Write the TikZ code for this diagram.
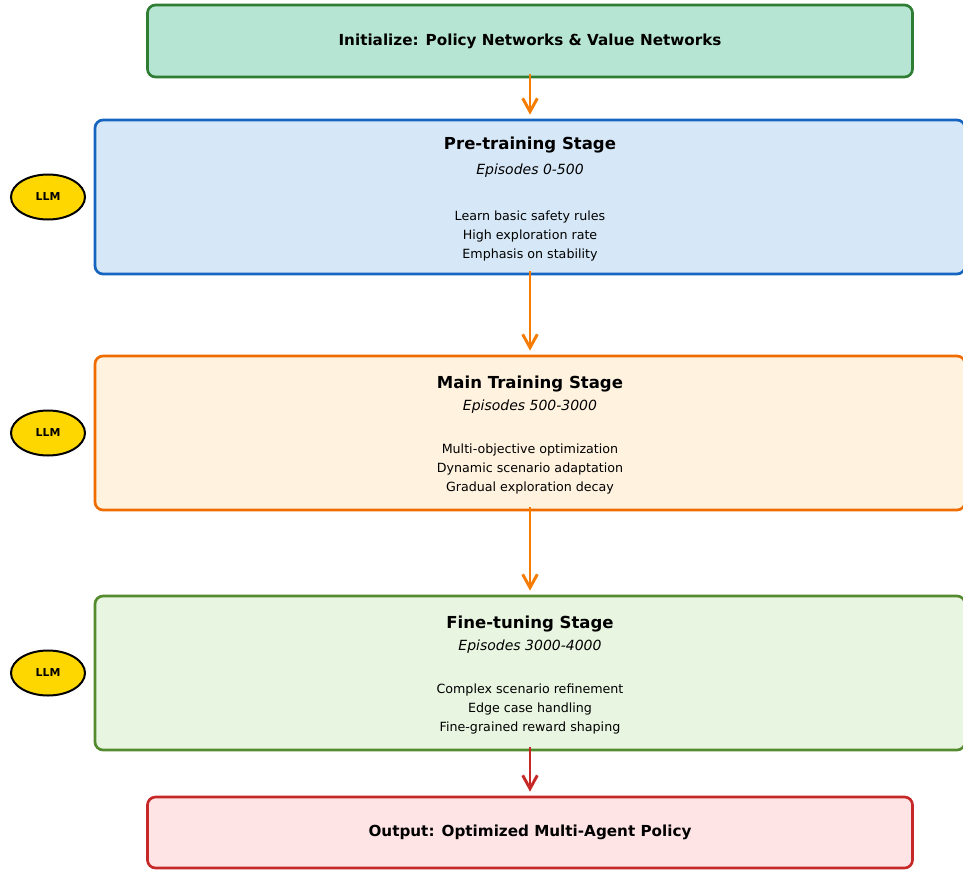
\documentclass[tikz,border=0pt]{standalone}
\usepackage{fontspec}
\setmainfont{DejaVu Sans}[ItalicFont={DejaVu Sans Oblique},BoldFont={DejaVu Sans Bold},BoldItalicFont={DejaVu Sans Bold Oblique}]
\usepackage{tikz}
\usetikzlibrary{arrows.meta,shapes.geometric,positioning}

\definecolor{initFill}{RGB}{183,229,212}
\definecolor{initLine}{RGB}{46,125,50}
\definecolor{preFill}{RGB}{214,232,247}
\definecolor{preLine}{RGB}{21,101,192}
\definecolor{mainFill}{RGB}{255,243,224}
\definecolor{mainLine}{RGB}{239,108,0}
\definecolor{fineFill}{RGB}{232,245,225}
\definecolor{fineLine}{RGB}{85,139,47}
\definecolor{outFill}{RGB}{255,228,230}
\definecolor{outLine}{RGB}{198,40,40}
\definecolor{flowOrange}{RGB}{245,124,0}
\definecolor{llmGold}{RGB}{255,215,0}

\begin{document}
\begin{tikzpicture}[x=0.75pt,y=-0.75pt,
	endbox/.style={rectangle,rounded corners=6pt,line width=2pt,minimum width=573.75pt,inner sep=0pt},
	stage/.style={rectangle,rounded corners=6pt,line width=2pt,minimum width=652.5pt,minimum height=115.5pt,inner sep=0pt},
	endtext/.style={font=\fontsize{11.4}{14}\selectfont\bfseries},
	headtext/.style={font=\fontsize{12.4}{15}\selectfont\bfseries,inner sep=0pt},
	eptext/.style={font=\fontsize{10.5}{13}\selectfont\itshape,inner sep=0pt},
	itemtext/.style={font=\fontsize{9.5}{12}\selectfont,inner sep=0pt},
	llm/.style={ellipse,draw=black,line width=1.5pt,fill=llmGold,minimum width=55.5pt,minimum height=33.75pt,inner sep=0pt,font=\fontsize{8.2}{10}\selectfont\bfseries},
	flow/.style={draw=flowOrange,line width=2.2pt,-{Straight Barb[length=10pt,width=11pt]},shorten >=3pt,shorten <=-3pt}
]
\useasboundingbox (0,0) rectangle (963,874);
\clip (0,0) rectangle (963,874);

% top and bottom boxes
\node[endbox,fill=initFill,draw=initLine,minimum height=54pt,endtext] (init) at (530,41) {Initialize: Policy Networks \& Value Networks};
\node[endbox,fill=outFill,draw=outLine,minimum height=53.25pt,endtext] (out) at (530,832.5) {Output: Optimized Multi-Agent Policy};

% the three stages (\dt = extra shift of the text block)
\foreach \s/\yc/\dt/\head/\ep/\la/\lb/\lc in {
	pre/197/-3/Pre-training Stage/Episodes 0-500/Learn basic safety rules/High exploration rate/Emphasis on stability,
	main/433/0/Main Training Stage/Episodes 500-3000/Multi-objective optimization/Dynamic scenario adaptation/Gradual exploration decay,
	fine/673/0/Fine-tuning Stage/Episodes 3000-4000/Complex scenario refinement/Edge case handling/Fine-grained reward shaping} {
	\node[stage,fill=\s Fill,draw=\s Line] (\s) at (530,\yc) {};
	\node[headtext] (\s-head) at (530,\yc-49+\dt) {\head};
	\node[eptext] (\s-ep) at (530,\yc-26) {\ep};
	\node[itemtext] (\s-a) at (530,\yc+17-\dt) {\la};
	\node[itemtext] (\s-b) at (530,\yc+36-\dt) {\lb};
	\node[itemtext] (\s-c) at (530,\yc+55-\dt) {\lc};

	% LLM badge
	\node[llm] (\s-llm) at (48,\yc) {LLM};
}

% arrows between stages
\draw[flow] (init) -- (pre);
\draw[flow] (pre) -- (main);
\draw[flow] (main) -- (fine);
\draw[flow,draw=outLine] (fine) -- (out);
\end{tikzpicture}
\end{document}
